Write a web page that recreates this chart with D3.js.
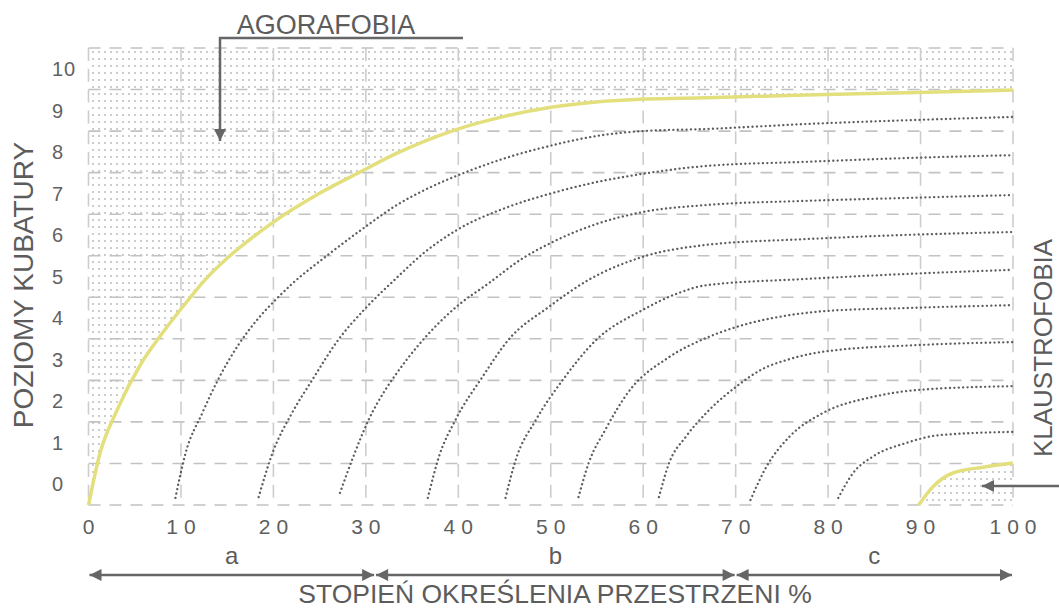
<!DOCTYPE html>
<html>
<head>
<meta charset="utf-8">
<script src="https://cdn.jsdelivr.net/npm/d3@7"></script>
<style>
  body { margin: 0; background: #fff; }
  svg { display: block; font-family: "Liberation Sans", Arial, sans-serif; }
</style>
</head>
<body>
<svg id="chart" width="1059" height="610"></svg>
<script>
// values: x = % of space definition, y = cubature level
var xTicks = [0, 10, 20, 30, 40, 50, 60, 70, 80, 90, 100];
var yTicks = [0, 1, 2, 3, 4, 5, 6, 7, 8, 9, 10];
var yGrid = [-0.5, 0.5, 1.5, 2.5, 3.5, 4.5, 5.5, 6.5, 7.5, 8.5, 9.5, 10.5];
var zones = ["a", "b", "c"];
var zoneBounds = [0, 31, 70, 100];

// yellow boundary curves
var agoraCurve = [[0,-0.5],[1.25,0.75],[3.1,1.79],[5.6,2.87],[8,3.64],[10.7,4.41],[12.6,4.92],[15,5.44],[17.5,5.9],[20,6.31],[24.9,6.99],[29.6,7.54],[33.2,7.95],[39.7,8.53],[45.1,8.86],[50.2,9.08],[54.9,9.2],[60.3,9.27],[66.8,9.3],[77.6,9.37],[88.4,9.42],[100,9.49]];
var klaustroCurve = [[89.8,-0.5],[91.3,-0.07],[93.5,0.27],[96.8,0.41],[100,0.51]];

// dotted level curves
var level1 = [[9.4,-0.33],[10.5,0.75],[12.3,1.71],[14,2.51],[16.2,3.35],[18.4,4.0],[20.2,4.43],[22,4.82],[25.6,5.47],[29.6,6.14],[33.2,6.7],[36.8,7.13],[40,7.44],[45.1,7.85],[50.2,8.16],[54.9,8.38],[59.9,8.5],[66.8,8.55],[77.6,8.67],[89.8,8.77],[100,8.84]];
var level2 = [[18.4,-0.31],[19.9,0.75],[22,1.71],[24.2,2.51],[27,3.47],[29.9,4.22],[33.2,4.94],[36.4,5.59],[40,6.14],[45.1,6.65],[50.2,7.01],[54.9,7.27],[59.9,7.47],[66.8,7.66],[77.6,7.76],[88.4,7.85],[100,7.92]];
var level3 = [[27.2,-0.21],[28.5,0.58],[30.3,1.55],[32.1,2.27],[33.2,2.63],[35.7,3.35],[40,4.31],[43.3,4.84],[46.7,5.4],[50.2,5.83],[54.9,6.26],[59.9,6.55],[66.8,6.72],[77.6,6.82],[88.4,6.89],[100,6.96]];
var level4 = [[36.7,-0.33],[37.9,0.66],[39.7,1.55],[42.6,2.58],[45.4,3.47],[49.8,4.27],[54.1,4.92],[59.9,5.47],[66.8,5.76],[77.6,5.9],[88.4,6.0],[100,6.07]];
var level5 = [[45.1,-0.33],[46.2,0.58],[48.4,1.55],[51.3,2.51],[54.9,3.47],[59.9,4.19],[63.8,4.6],[66.8,4.79],[77.6,4.94],[88.4,5.06],[100,5.16]];
var level6 = [[53,-0.31],[54.1,0.51],[55.9,1.31],[58.4,2.22],[62.8,3.06],[66.8,3.52],[70,3.78],[75.8,4.07],[79.8,4.17],[88.4,4.24],[100,4.31]];
var level7 = [[61.7,-0.31],[62.8,0.51],[64.6,1.14],[66.8,1.71],[70.3,2.39],[72.7,2.75],[75.8,3.01],[79.8,3.2],[89.8,3.35],[100,3.42]];
var level8 = [[71.6,-0.38],[73.3,0.41],[75.8,1.14],[79.4,1.71],[84.8,2.1],[89.8,2.27],[100,2.36]];
var level9 = [[81.1,-0.33],[82.7,0.27],[84.8,0.66],[88.4,0.99],[92,1.18],[100,1.26]];
var levels = [level1, level2, level3, level4, level5, level6, level7, level8, level9];

var svg = d3.select("#chart");
var x = d3.scaleLinear().domain([0, 100]).range([88.5, 1013]);
var y = d3.scaleLinear().domain([-0.5, 10.5]).range([505, 48]);
var textCol = "#5c5c5c";

var defs = svg.append("defs");
var pat = defs.append("pattern")
  .attr("id", "dots")
  .attr("patternUnits", "userSpaceOnUse")
  .attr("width", 6).attr("height", 7);
pat.append("rect").attr("x", 2).attr("y", 2).attr("width", 2).attr("height", 2).attr("fill", "#cccccc");

var arrowHead = function(id, orient) {
  defs.append("marker")
    .attr("id", id)
    .attr("viewBox", "0 0 10 10")
    .attr("refX", 10).attr("refY", 5)
    .attr("markerWidth", 14).attr("markerHeight", 12)
    .attr("markerUnits", "userSpaceOnUse")
    .attr("orient", orient)
    .append("path").attr("d", "M0,0 L10,5 L0,10 Z").attr("fill", "#666");
};
arrowHead("arr", "auto");
arrowHead("arrStart", "auto-start-reverse");

// textured phobia regions
var topArea = d3.area().curve(d3.curveMonotoneX)
  .x(d => x(d[0])).y0(y(10.5)).y1(d => y(d[1]));
var bottomArea = d3.area().curve(d3.curveMonotoneX)
  .x(d => x(d[0])).y0(y(-0.5)).y1(d => y(d[1]));
svg.append("path").datum(agoraCurve).attr("d", topArea).attr("fill", "url(#dots)");
svg.append("path").datum(klaustroCurve).attr("d", bottomArea).attr("fill", "url(#dots)");

// grid
var grid = svg.append("g");
grid.selectAll("line.h").data(yGrid).enter().append("line")
  .attr("x1", x(0)).attr("x2", x(100))
  .attr("y1", d => y(d)).attr("y2", d => y(d))
  .attr("stroke", "#c2c2c2").attr("stroke-width", 1.6)
  .attr("stroke-dasharray", "12,9");
grid.selectAll("line.v").data(xTicks).enter().append("line")
  .attr("x1", d => x(d)).attr("x2", d => x(d))
  .attr("y1", y(10.5)).attr("y2", y(-0.5))
  .attr("stroke", "#cdcdcd").attr("stroke-width", 1.6)
  .attr("stroke-dasharray", "13,7.8");

// curves
var line = d3.line().curve(d3.curveMonotoneX).x(d => x(d[0])).y(d => y(d[1]));
svg.selectAll("path.level").data(levels).enter().append("path")
  .attr("class", "level")
  .attr("d", line)
  .attr("fill", "none")
  .attr("stroke", "#5e5e5e")
  .attr("stroke-width", 2.3)
  .attr("stroke-linecap", "round")
  .attr("stroke-dasharray", "0.1,4.3");
svg.selectAll("path.bound").data([agoraCurve, klaustroCurve]).enter().append("path")
  .attr("class", "bound")
  .attr("d", line)
  .attr("fill", "none")
  .attr("stroke", "#e3df7c")
  .attr("stroke-width", 3.5);

// axes labels
svg.append("g").selectAll("text").data(yTicks).enter().append("text")
  .attr("x", 52).attr("y", d => y(d))
  .attr("dy", "0.36em")
  .attr("font-size", 20).attr("fill", "#626262")
  .attr("letter-spacing", 1)
  .text(d => d);

svg.append("g").selectAll("text").data(xTicks).enter().append("text")
  .attr("x", d => x(d) + 3).attr("y", 534)
  .attr("text-anchor", "middle")
  .attr("font-size", 21).attr("fill", "#5e5e5e")
  .attr("letter-spacing", 6)
  .text(d => d);

// a / b / c ranges
var zoneG = svg.append("g");
zones.forEach(function(z, i) {
  var x0 = x(zoneBounds[i]), x1 = x(zoneBounds[i + 1]);
  zoneG.append("line")
    .attr("x1", x0 + 1).attr("x2", x1 - 1)
    .attr("y1", 575).attr("y2", 575)
    .attr("stroke", "#666").attr("stroke-width", 2.5)
    .attr("marker-start", "url(#arrStart)")
    .attr("marker-end", "url(#arr)");
  zoneG.append("text")
    .attr("x", (x0 + x1) / 2).attr("y", 564)
    .attr("text-anchor", "middle")
    .attr("font-size", 24).attr("fill", textCol)
    .text(z);
});

svg.append("text")
  .attr("x", 555).attr("y", 603)
  .attr("text-anchor", "middle")
  .attr("font-size", 26.5).attr("fill", textCol)
  .text("STOPIEŃ OKREŚLENIA PRZESTRZENI %");

svg.append("text")
  .attr("transform", "translate(23,285) rotate(-90)")
  .attr("text-anchor", "middle").attr("dy", "0.36em")
  .attr("font-size", 28).attr("fill", textCol)
  .text("POZIOMY KUBATURY");

// annotations
svg.append("text")
  .attr("x", 326).attr("y", 34)
  .attr("text-anchor", "middle")
  .attr("font-size", 27).attr("fill", textCol)
  .text("AGORAFOBIA");
svg.append("path")
  .attr("d", "M463,38 H220 V141")
  .attr("fill", "none").attr("stroke", "#666").attr("stroke-width", 2.5)
  .attr("marker-end", "url(#arr)");

svg.append("text")
  .attr("transform", "translate(1043,348) rotate(-90)")
  .attr("text-anchor", "middle").attr("dy", "0.36em")
  .attr("font-size", 26).attr("fill", textCol)
  .text("KLAUSTROFOBIA");
svg.append("path")
  .attr("d", "M1059,486 H982")
  .attr("fill", "none").attr("stroke", "#666").attr("stroke-width", 2.5)
  .attr("marker-end", "url(#arr)");
</script>
</body>
</html>
